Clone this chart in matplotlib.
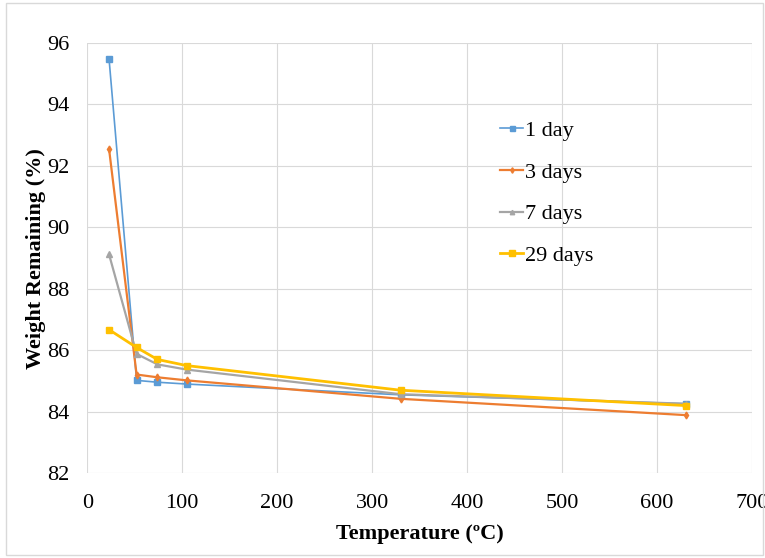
import matplotlib
matplotlib.use("Agg")
import matplotlib.pyplot as plt
from matplotlib.patches import Rectangle

# temperature steps (C)
temps = [23, 52, 74, 105, 330, 630]

# weight remaining (%) per curing time
day1 = [95.48, 85.02, 84.96, 84.90, 84.55, 84.26]
day3 = [92.55, 85.21, 85.12, 85.02, 84.42, 83.89]
day7 = [89.12, 85.88, 85.54, 85.37, 84.57, 84.26]
day29 = [86.67, 86.09, 85.70, 85.50, 84.70, 84.20]

labels = ["1 day", "3 days", "7 days", "29 days"]

plt.rcParams['font.family'] = ['Liberation Serif', 'DejaVu Serif']

fig = plt.figure(figsize=(7.65, 5.58), dpi=100)
ax = fig.add_axes([0.114, 0.152, 0.869, 0.771])

ax.plot(temps, day1, marker='s', markersize=4.5, linewidth=1.2, color='#5B9BD5', label=labels[0])
ax.plot(temps, day3, marker='d', markersize=3.5, linewidth=1.6, color='#ED7D31', label=labels[1])
ax.plot(temps, day7, marker='^', markersize=4, linewidth=1.6, color='#A5A5A5', label=labels[2])
ax.plot(temps, day29, marker='s', markersize=5, linewidth=2, color='#FFC000', label=labels[3])

ax.set_xlim(0, 700)
ax.set_ylim(82, 96)
ax.set_xticks(range(0, 701, 100))
ax.set_yticks(range(82, 97, 2))
ax.grid(True, color='#d9d9d9', linewidth=0.8)
ax.set_axisbelow(True)
for s in ax.spines.values():
    s.set_visible(False)
ax.tick_params(length=0, labelsize=16)
ax.tick_params(axis='x', pad=15)
ax.tick_params(axis='y', pad=13)

ax.set_xlabel('Temperature (ºC)', fontsize=16, fontweight='bold', labelpad=8)
ax.set_ylabel('Weight Remaining (%)', fontsize=16, fontweight='bold', labelpad=1)

ax.legend(loc='upper left', bbox_to_anchor=(0.628, 0.82), bbox_transform=fig.transFigure,
          frameon=False, fontsize=16, handlelength=1.0, handletextpad=0.1,
          labelspacing=0.95, markerscale=0.8)

# light frame round the whole chart
fig.patches.append(Rectangle((0.008, 0.006), 0.99, 0.988, transform=fig.transFigure,
                             fill=False, edgecolor='#d9d9d9', linewidth=1))

fig.savefig('out.png', dpi=100)
